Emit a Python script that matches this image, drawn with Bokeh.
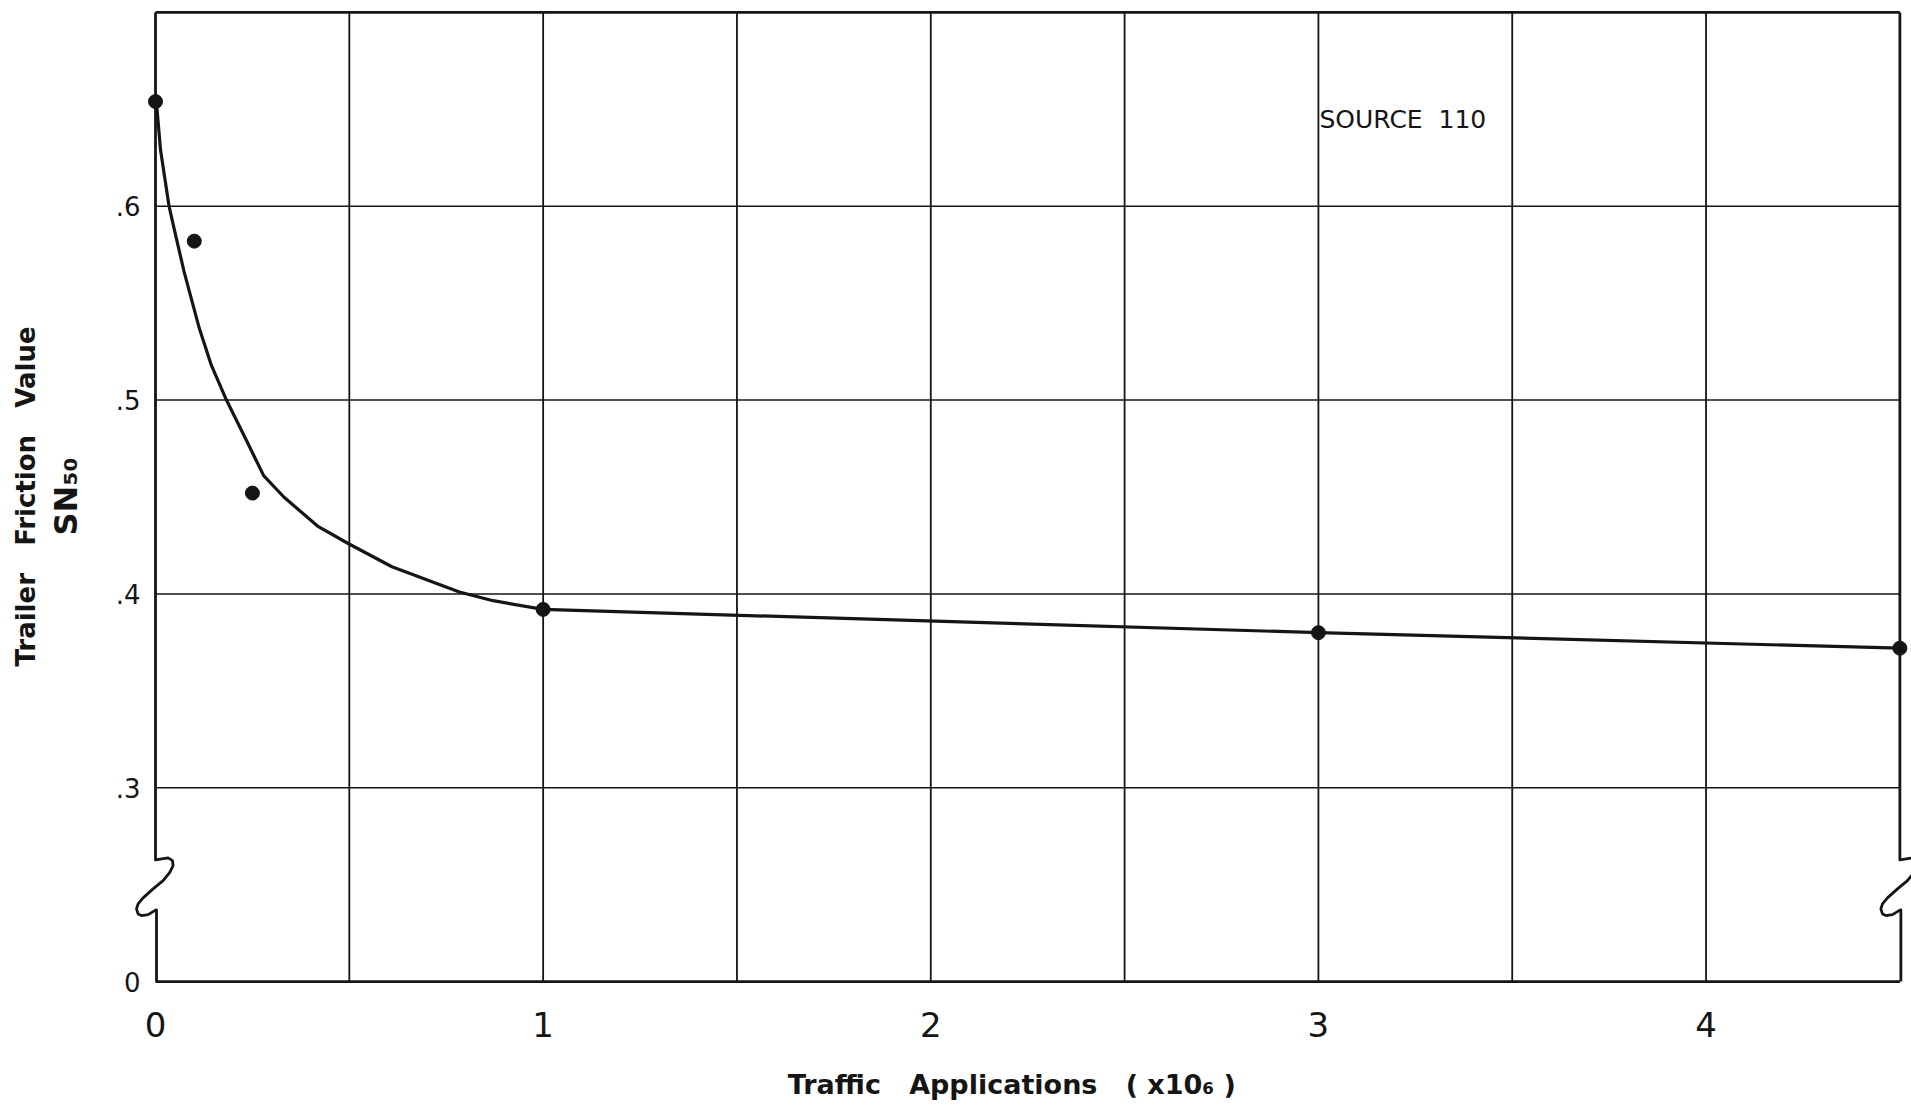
from bokeh.plotting import figure
from bokeh.models import FixedTicker, Label, Range1d, LinearAxis
from bokeh.embed import file_html
from bokeh.resources import INLINE

# ---------------- data ----------------
# measured points: traffic applications (x10^6) vs trailer friction value SN50
traffic = [0.0, 0.1, 0.25, 1.0, 3.0, 4.5]
sn50 = [0.654, 0.582, 0.452, 0.392, 0.380, 0.372]

# hand-drawn fitted curve, read along its path
curve_x = [0.0, 0.004, 0.013, 0.035, 0.052, 0.074, 0.113, 0.144, 0.183, 0.235,
           0.279, 0.331, 0.418, 0.497, 0.610, 0.784, 0.871, 1.0, 3.0, 4.5]
curve_y = [0.654, 0.650, 0.629, 0.600, 0.585, 0.566, 0.537, 0.518, 0.500, 0.479,
           0.461, 0.450, 0.435, 0.426, 0.414, 0.401, 0.3965, 0.392, 0.380, 0.372]

x_ticks = [0, 1, 2, 3, 4]
x_tick_labels = ["0", "1", "2", "3", "4"]
# broken axis: the bottom grid line carries the label "0"
y_ticks = [0.2, 0.3, 0.4, 0.5, 0.6]
y_tick_labels = ["0", ".3", ".4", ".5", ".6"]

x_grid = [0.5, 1.0, 1.5, 2.0, 2.5, 3.0, 3.5, 4.0]
y_grid = [0.3, 0.4, 0.5, 0.6]
x_min, x_max = 0.0, 4.5
y_bottom, y_top = 0.2, 0.7
break_top = 0.2624   # where the axis break (squiggle) begins

NB = "\u00a0"  # non-breaking space keeps the wide word gaps of the lettering
x_title = "Traffic" + NB * 3 + "Applications" + NB * 3 + "(" + NB + "x10₆" + NB + ")" + NB * 3
y_title = "Trailer" + NB * 3 + "Friction" + NB * 3 + "Value"
y_title2 = "SN₅₀"
note = "SOURCE" + NB * 2 + "110"

# ---------------- layout ----------------
W, H = 1911, 1114
ML, MR, MT, MB = 140, 0, 9, 131
X0, X1 = -0.0387, 4.53
Y0, Y1 = 0.199, 0.7015
px_x = (W - ML - MR) / (X1 - X0)
px_y = (H - MT - MB) / (Y1 - Y0)

FONT = "DejaVu Sans"
INK = "#151515"

p = figure(width=W, height=H, x_range=Range1d(X0, X1), y_range=Range1d(Y0, Y1),
           output_backend="svg", toolbar_location=None,
           min_border_left=ML, min_border_right=MR,
           min_border_top=MT, min_border_bottom=MB)
p.grid.visible = False
p.outline_line_color = None
p.background_fill_color = "white"
p.border_fill_color = "white"

# grid lines
p.segment(x0=x_grid, y0=[y_bottom] * len(x_grid), x1=x_grid, y1=[y_top] * len(x_grid),
          line_color=INK, line_width=1.8)
p.segment(x0=[x_min] * len(y_grid), y0=y_grid, x1=[x_max] * len(y_grid), y1=y_grid,
          line_color=INK, line_width=1.5)
# top and bottom borders
p.segment(x0=[x_min, x_min], y0=[y_top, y_bottom], x1=[x_max, x_max], y1=[y_top, y_bottom],
          line_color=INK, line_width=2.8)

# broken side borders with squiggle (shape in pixel offsets)
sq_dx = [0, 12.6, 17, 17.6, 14.3, 7.6, -2.4, -12.4, -17.4, -19, -17.4, -14, -7.4, -0.7, 1]
sq_dy = [-0.7, -2.7, 0, 5, 11.7, 20, 28.3, 37.3, 43.3, 48.3, 53.3, 55, 54, 50, 49.3]
for xb in (x_min, x_max):
    xs = [xb] + [xb + dx / px_x for dx in sq_dx] + [xb + 1 / px_x]
    ys = [y_top] + [break_top - dy / px_y for dy in sq_dy] + [y_bottom]
    p.line(xs, ys, line_color=INK, line_width=2.8, line_join="round", level="overlay")

# curve and points
p.line(curve_x, curve_y, line_color=INK, line_width=3.2, line_join="round")
p.scatter(traffic, sn50, size=14, color=INK)

# axes
xa = p.xaxis[0]
xa.ticker = FixedTicker(ticks=x_ticks)
xa.major_label_overrides = dict(zip(x_ticks, x_tick_labels))
xa.axis_line_color = None
xa.major_tick_line_color = None
xa.minor_tick_line_color = None
xa.major_tick_out = 0
xa.major_label_text_font = FONT
xa.major_label_text_font_size = "34px"
xa.major_label_text_color = INK
xa.major_label_standoff = 28
xa.axis_label = x_title
xa.axis_label_text_font = FONT
xa.axis_label_text_font_size = "27px"
xa.axis_label_text_font_style = "bold"
xa.axis_label_text_color = INK
xa.axis_label_standoff = 29

ya = p.yaxis[0]
ya.ticker = FixedTicker(ticks=y_ticks)
ya.major_label_overrides = dict(zip(y_ticks, y_tick_labels))
ya.axis_line_color = None
ya.major_tick_line_color = None
ya.minor_tick_line_color = None
ya.major_tick_out = 0
ya.major_label_text_font = FONT
ya.major_label_text_font_size = "26px"
ya.major_label_text_color = INK
ya.major_label_standoff = 0
ya.axis_label = y_title2
ya.axis_label_text_font = FONT
ya.axis_label_text_font_size = "32px"
ya.axis_label_text_font_style = "bold"
ya.axis_label_text_color = INK
ya.axis_label_standoff = 28

# outer left axis carrying only the first line of the y title
yt = LinearAxis(ticker=FixedTicker(ticks=[]), axis_label=y_title,
                axis_line_color=None, major_tick_line_color=None, minor_tick_line_color=None,
                major_tick_out=0,
                axis_label_text_font=FONT, axis_label_text_font_size="26px",
                axis_label_text_font_style="bold", axis_label_text_color=INK,
                axis_label_standoff=3, major_label_standoff=0)
p.add_layout(yt, "left")

# annotation
p.add_layout(Label(x=3.0, y=0.645, x_offset=1, text=note,
                   text_align="left", text_baseline="middle",
                   text_font=FONT, text_font_size="25px", text_color=INK))

open("out.html", "w").write(file_html(p, INLINE))
